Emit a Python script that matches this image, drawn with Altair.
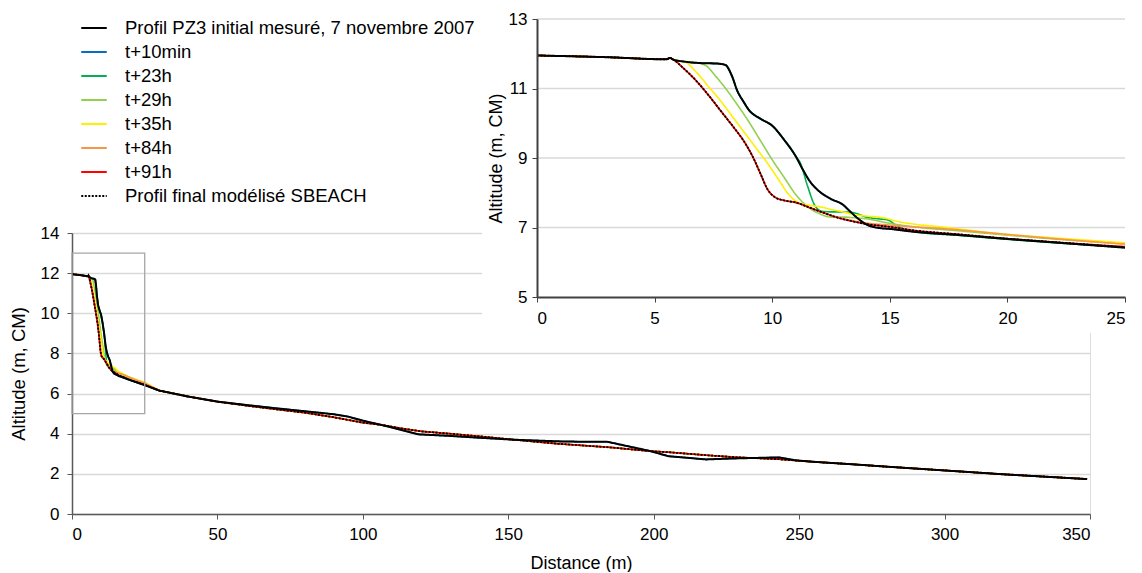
import altair as alt
import pandas as pd

# ---------------- data ----------------
series_names = [
    "Profil PZ3 initial mesuré, 7 novembre 2007",
    "t+10min",
    "t+23h",
    "t+29h",
    "t+35h",
    "t+84h",
    "t+91h",
    "Profil final modélisé SBEACH",
]
series_colors = ["#000000", "#0070C0", "#00B050", "#92D050", "#FFEF00", "#F79646", "#FF0000", "#000000"]
series_dash = [[1, 0], [1, 0], [1, 0], [1, 0], [1, 0], [1, 0], [1, 0], [2, 1.5]]

# near-shore part (0-25 m)
init_x = [0, 3, 5.5, 5.65, 5.8, 6.2, 7.0, 7.6, 8.0, 8.3, 8.5, 8.8, 9.0, 9.5, 10.0, 10.5, 11.0, 11.3, 11.6, 12.0, 12.5, 13.0, 13.3, 13.7, 14.0, 14.5, 15.0, 16.0, 18.0, 20.0, 22.0, 25.0]
init_y = [11.95, 11.9, 11.84, 11.88, 11.83, 11.78, 11.73, 11.72, 11.68, 11.34, 10.96, 10.6, 10.39, 10.13, 9.93, 9.53, 9.05, 8.67, 8.33, 8.04, 7.82, 7.66, 7.47, 7.23, 7.09, 6.99, 6.96, 6.88, 6.78, 6.67, 6.57, 6.42]

t10_x = [0, 3, 5.5, 5.65, 5.8, 6.2, 7.0, 7.6, 8.0, 8.3, 8.5, 8.8, 9.0, 9.5, 10.0, 10.5, 11.0, 11.3, 11.6, 12.0, 12.5, 13.0, 13.3, 13.7, 14.0, 14.5, 15.0, 16.0, 18.0, 20.0, 22.0, 25.0]
t10_y = [11.95, 11.9, 11.84, 11.88, 11.83, 11.78, 11.73, 11.72, 11.68, 11.34, 10.96, 10.6, 10.39, 10.13, 9.93, 9.53, 9.05, 8.67, 8.33, 8.04, 7.82, 7.66, 7.47, 7.23, 7.09, 6.99, 6.96, 6.88, 6.78, 6.67, 6.57, 6.42]

t23_x = [0, 3, 5.5, 5.65, 5.8, 6.2, 7.0, 7.6, 8.0, 8.3, 8.5, 8.8, 9.0, 9.5, 10.0, 10.5, 11.0, 11.2, 11.5, 11.8, 12.1, 12.5, 13.0, 13.5, 14.0, 14.5, 14.9, 15.3, 16.0, 18.0, 20.0, 22.0, 25.0]
t23_y = [11.95, 11.9, 11.84, 11.88, 11.83, 11.78, 11.73, 11.72, 11.68, 11.34, 10.96, 10.6, 10.39, 10.13, 9.93, 9.53, 9.05, 8.85, 8.2, 7.65, 7.47, 7.45, 7.45, 7.42, 7.3, 7.25, 7.22, 7.05, 6.88, 6.77, 6.66, 6.56, 6.44]

t29_x = [0, 3, 5.5, 5.65, 5.8, 6.2, 6.8, 7.2, 7.6, 8.0, 8.5, 9.0, 9.5, 10.0, 10.5, 11.0, 11.5, 12.0, 12.5, 13.0, 13.5, 14.0, 15.0, 16.0, 18.0, 20.0, 22.0, 25.0]
t29_y = [11.95, 11.9, 11.84, 11.88, 11.83, 11.78, 11.74, 11.65, 11.35, 11.02, 10.55, 10.05, 9.5, 8.95, 8.45, 7.95, 7.6, 7.4, 7.3, 7.3, 7.28, 7.25, 7.12, 7.02, 6.9, 6.78, 6.67, 6.53]

t35_x = [0, 3, 5.5, 5.65, 5.8, 6.3, 6.8, 7.3, 7.8, 8.3, 8.8, 9.3, 9.8, 10.3, 10.7, 11.1, 11.5, 12.0, 12.5, 13.0, 13.5, 14.0, 14.8, 15.3, 16.0, 17.0, 20.0, 22.0, 25.0]
t35_y = [11.95, 11.9, 11.84, 11.88, 11.83, 11.76, 11.45, 11.05, 10.65, 10.2, 9.75, 9.3, 8.85, 8.35, 7.95, 7.72, 7.65, 7.6, 7.52, 7.45, 7.37, 7.33, 7.27, 7.18, 7.1, 7.03, 6.8, 6.7, 6.56]

t84_x = [0, 3, 5.5, 5.65, 5.8, 6.2, 6.8, 7.3, 7.9, 8.4, 8.8, 9.2, 9.5, 9.8, 10.1, 10.5, 11.0, 11.6, 12.2, 12.8, 13.4, 14.0, 15.0, 16.0, 17.0, 20.0, 22.0, 25.0]
t84_y = [11.95, 11.9, 11.84, 11.88, 11.83, 11.6, 11.2, 10.8, 10.28, 9.85, 9.48, 9.0, 8.55, 8.1, 7.88, 7.78, 7.72, 7.57, 7.42, 7.3, 7.2, 7.13, 7.07, 7.02, 6.98, 6.8, 6.68, 6.52]

t91_x = [0, 3, 5.5, 5.65, 5.8, 6.2, 6.8, 7.3, 7.9, 8.4, 8.8, 9.2, 9.5, 9.8, 10.1, 10.5, 11.0, 11.6, 12.2, 12.8, 13.4, 14.0, 15.0, 16.0, 18.0, 20.0, 22.0, 25.0]
t91_y = [11.95, 11.9, 11.84, 11.88, 11.83, 11.6, 11.2, 10.8, 10.28, 9.85, 9.48, 9.0, 8.55, 8.1, 7.88, 7.78, 7.72, 7.57, 7.42, 7.28, 7.18, 7.1, 7.02, 6.92, 6.8, 6.68, 6.58, 6.45]

sbeach_x = [0, 3, 5.5, 5.65, 5.8, 6.2, 6.8, 7.3, 7.9, 8.4, 8.8, 9.2, 9.5, 9.8, 10.1, 10.5, 11.0, 11.6, 12.2, 12.8, 13.4, 14.0, 15.0, 16.0, 18.0, 20.0, 22.0, 25.0]
sbeach_y = [11.95, 11.9, 11.84, 11.88, 11.83, 11.6, 11.2, 10.8, 10.28, 9.85, 9.48, 9.0, 8.55, 8.1, 7.88, 7.78, 7.72, 7.57, 7.42, 7.28, 7.18, 7.1, 7.02, 6.92, 6.8, 6.68, 6.58, 6.43]

# offshore part (> 25 m)
init_tail_x = [30, 40, 50, 60, 70, 80, 90, 95, 100, 106, 113, 119, 130, 140, 152, 167, 175, 184, 199, 205, 218, 228, 243, 249, 255, 269, 280, 300, 320, 349]
init_tail_y = [6.15, 5.85, 5.6, 5.43, 5.27, 5.12, 4.97, 4.85, 4.65, 4.45, 4.2, 3.97, 3.89, 3.8, 3.7, 3.62, 3.6, 3.6, 3.13, 2.88, 2.72, 2.77, 2.82, 2.67, 2.6, 2.47, 2.36, 2.17, 1.98, 1.74]
model_tail_x = [30, 40, 50, 60, 70, 80, 90, 100, 106, 113, 120, 130, 140, 152, 167, 175, 185, 199, 205, 218, 228, 243, 255, 269, 280, 300, 320, 349]
model_tail_y = [6.15, 5.85, 5.6, 5.4, 5.22, 5.05, 4.82, 4.55, 4.45, 4.27, 4.12, 4.0, 3.87, 3.7, 3.5, 3.42, 3.32, 3.13, 3.08, 2.93, 2.83, 2.73, 2.6, 2.47, 2.36, 2.17, 1.98, 1.74]

inset_grid_y = [7, 9, 11, 13]
zoom_box_x = [0, 25]
zoom_box_y = [5, 13]

near = {
    series_names[0]: (init_x, init_y, init_tail_x, init_tail_y),
    series_names[1]: (t10_x, t10_y, init_tail_x, init_tail_y),
    series_names[2]: (t23_x, t23_y, model_tail_x, model_tail_y),
    series_names[3]: (t29_x, t29_y, model_tail_x, model_tail_y),
    series_names[4]: (t35_x, t35_y, model_tail_x, model_tail_y),
    series_names[5]: (t84_x, t84_y, model_tail_x, model_tail_y),
    series_names[6]: (t91_x, t91_y, model_tail_x, model_tail_y),
    series_names[7]: (sbeach_x, sbeach_y, model_tail_x, model_tail_y),
}

rows_main, rows_inset = [], []
for s, (nx, ny, tx, ty) in near.items():
    for a, b in zip(nx, ny):
        rows_main.append({"serie": s, "x": a, "y": b})
        rows_inset.append({"serie": s, "x": a, "y": b})
    for a, b in zip(tx, ty):
        rows_main.append({"serie": s, "x": a, "y": b})
df_main = pd.DataFrame(rows_main)
df_inset = pd.DataFrame(rows_inset)
df_grid = pd.DataFrame({"y": inset_grid_y, "x0": [0] * 4, "x1": [25] * 4})
df_box = pd.DataFrame({"x0": [zoom_box_x[0]], "x1": [zoom_box_x[1]], "y0": [zoom_box_y[0]], "y1": [zoom_box_y[1]]})

FONT = "Liberation Sans"
models = series_names[1:7]

leg = alt.Legend(
    title=None, orient="none", legendX=8, legendY=-219,
    symbolType="stroke", symbolSize=650, symbolStrokeWidth=2,
    labelFont=FONT, labelFontSize=18.5, labelColor="#000000", labelLimit=0,
    labelOffset=17, rowPadding=0, padding=0,
)
color_enc = alt.Color("serie:N", scale=alt.Scale(domain=series_names, range=series_colors), legend=leg)
dash_enc = alt.StrokeDash("serie:N", scale=alt.Scale(domain=series_names, range=series_dash), legend=leg)

# ---------------- main chart ----------------
main_x_scale = alt.Scale(domain=[0, 350], nice=False)
main_y_scale = alt.Scale(domain=[0, 14], nice=False)
main_x_axis = alt.Axis(title="Distance (m)", values=list(range(0, 351, 50)), grid=False,
                       labelFontSize=17, labelPadding=7, titleFontSize=18, titlePadding=12,
                       titleFontWeight="normal",
                       domainColor="#595959", domainWidth=1.5, tickColor="#595959", tickSize=5)
main_y_axis = alt.Axis(title="Altitude (m, CM)", values=list(range(0, 15, 2)), grid=True,
                       gridColor="#d9d9d9", gridWidth=1.3, labelFontSize=17, labelPadding=8,
                       titleFontSize=18.5, titleFontWeight="normal",
                       titlePadding=12, domainColor="#595959", domainWidth=1.5,
                       tickColor="#595959", tickSize=5)
main_x = alt.X("x:Q", scale=main_x_scale, axis=main_x_axis)
main_y = alt.Y("y:Q", scale=main_y_scale, axis=main_y_axis)

mb = alt.Chart(df_main)
main_models = mb.mark_line(strokeWidth=1.6).encode(x=main_x, y=main_y, color=color_enc, strokeDash=dash_enc).transform_filter(
    alt.FieldOneOfPredicate(field="serie", oneOf=models))
main_init = mb.mark_line(strokeWidth=2).encode(x=main_x, y=main_y, color=color_enc, strokeDash=dash_enc).transform_filter(
    alt.FieldEqualPredicate(field="serie", equal=series_names[0]))
main_sb = mb.mark_line(strokeWidth=1.8).encode(x=main_x, y=main_y, color=color_enc, strokeDash=dash_enc).transform_filter(
    alt.FieldEqualPredicate(field="serie", equal=series_names[7]))
box = alt.Chart(df_box).mark_rect(fillOpacity=0, stroke="#a6a6a6", strokeWidth=1.3).encode(
    x=alt.X("x0:Q", scale=main_x_scale, axis=main_x_axis),
    x2="x1:Q",
    y=alt.Y("y0:Q", scale=main_y_scale, axis=main_y_axis),
    y2="y1:Q",
)
main_layer = alt.layer(main_models, main_init, main_sb, box)

# ---------------- white panel for inset ----------------
panel = alt.Chart(df_box).mark_rect(color="white").encode(
    x=alt.value(410), x2=alt.value(1080), y=alt.value(-240), y2=alt.value(100))

# ---------------- inset ----------------
ins_x_scale = alt.Scale(domain=[0, 25], range=[465, 1053], nice=False)
ins_y_scale = alt.Scale(domain=[5, 13], range=[64, -214], nice=False)
ins_x_axis = alt.Axis(title=None, orient="bottom", offset=-217, values=list(range(0, 26, 5)), grid=False,
                      labelFontSize=17, labelPadding=8, domainColor="#404040", domainWidth=2,
                      tickColor="#404040", tickSize=5, zindex=1)
ins_y_axis = alt.Axis(title="Altitude (m, CM)", orient="left", offset=-465, values=[5, 7, 9, 11, 13], grid=False,
                      labelFontSize=17, labelPadding=5, titleFontSize=18, titleFontWeight="normal",
                      titlePadding=3, domainColor="#404040",
                      domainWidth=2, tickColor="#404040", tickSize=5, zindex=1)
ix = alt.X("x:Q", scale=ins_x_scale, axis=ins_x_axis)
iy = alt.Y("y:Q", scale=ins_y_scale, axis=ins_y_axis)

ib = alt.Chart(df_inset)
grid = alt.Chart(df_grid).mark_rule(color="#d9d9d9", strokeWidth=1.3).encode(
    x=alt.X("x0:Q", scale=ins_x_scale, axis=ins_x_axis), x2="x1:Q",
    y=alt.Y("y:Q", scale=ins_y_scale, axis=ins_y_axis))
ins_models = ib.mark_line(strokeWidth=1.6, interpolate="monotone").encode(x=ix, y=iy, color=color_enc, strokeDash=dash_enc).transform_filter(
    alt.FieldOneOfPredicate(field="serie", oneOf=models))
ins_init = ib.mark_line(strokeWidth=2, interpolate="monotone").encode(x=ix, y=iy, color=color_enc, strokeDash=dash_enc).transform_filter(
    alt.FieldEqualPredicate(field="serie", equal=series_names[0]))
ins_sb = ib.mark_line(strokeWidth=1.8, interpolate="monotone").encode(x=ix, y=iy, color=color_enc, strokeDash=dash_enc).transform_filter(
    alt.FieldEqualPredicate(field="serie", equal=series_names[7]))
inset_layer = alt.layer(grid, ins_models, ins_init, ins_sb)

chart = alt.layer(main_layer, panel, inset_layer).resolve_scale(x="independent", y="independent").properties(
    width=1018, height=281,
    autosize=alt.AutoSizeParams(type="none"),
    padding={"left": 64, "top": 225, "right": 44, "bottom": 58},
).configure_view(stroke=None).configure_axis(
    labelFont=FONT, titleFont=FONT, labelColor="#000000", titleColor="#000000", titleFontWeight="normal"
).configure(background="white")

chart.save("out.html", embed_options={"renderer": "svg", "actions": False})
